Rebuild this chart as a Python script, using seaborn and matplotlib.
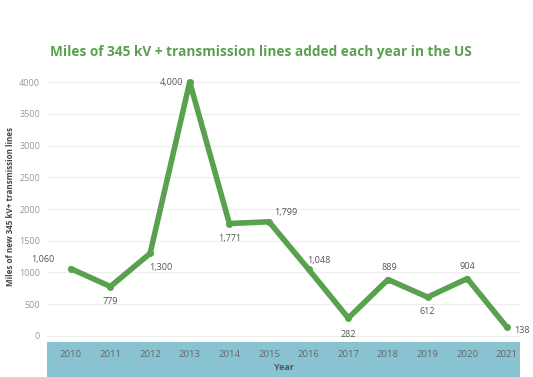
import numpy as np
import pandas as pd
import seaborn as sns
from matplotlib import pyplot as plt
from matplotlib.patches import Rectangle

years = ['2010', '2011', '2012', '2013', '2014', '2015', '2016', '2017', '2018', '2019', '2020', '2021']
miles = [1060, 779, 1300, 4000, 1771, 1799, 1048, 282, 889, 612, 904, 138]
labels = ['1,060', '779', '1,300', '4,000', '1,771', '1,799', '1,048', '282', '889', '612', '904', '138']
# label offsets in pixels (dx, dy, ha)
offsets = [(-28, 9, 'center'), (0, -15, 'center'), (11, -14, 'center'), (-7, 0, 'right'),
           (0, -15, 'center'), (17, 9, 'center'), (10, 9, 'center'), (0, -16, 'center'),
           (1, 12, 'center'), (0, -14, 'center'), (0, 12, 'center'), (7, -3, 'left')]

df = pd.DataFrame({'Year': years, 'Miles': miles})
df['pos'] = np.arange(len(df))

sns.set_style('white')
plt.rcParams['font.family'] = ['Open Sans', 'DejaVu Sans']

green = '#59a14f'
band = '#89c2d1'

fig = plt.figure(figsize=(5.33, 3.77), dpi=100)
ax = fig.add_axes([47/533, 35/377, 473/533, 272/377])

# blue x-axis band under the plot
ax.add_patch(Rectangle((0, -35/272), 1, 35/272, transform=ax.transAxes,
                       facecolor=band, edgecolor='none', clip_on=False, zorder=0.5))

sns.lineplot(data=df, x='pos', y='Miles', ax=ax, color=green, linewidth=4,
             marker='o', markersize=5, markeredgewidth=0)

for i, (lab, (dx, dy, ha)) in enumerate(zip(labels, offsets)):
    ax.annotate(lab, (i, miles[i]), xytext=(dx, dy), textcoords='offset pixels',
                ha=ha, va='center', fontsize=6.5, color='#555555')

ax.set_xlim(-0.6, 11.33)
ax.set_ylim(-95, 4190)
ax.set_yticks(range(0, 4001, 500))
ax.set_yticklabels([str(v) for v in range(0, 4001, 500)], fontsize=6.5, color='#999999')
ax.tick_params(axis='y', length=0, pad=5)
ax.grid(axis='y', color='#eeeeee', linewidth=0.8)
ax.set_axisbelow(True)
for s in ax.spines.values():
    s.set_visible(False)

ax.set_xticks(df['pos'])
ax.set_xticklabels(years, fontsize=6.8, color='#666666')
ax.tick_params(axis='x', length=2, color='#777777', pad=4, direction='out')
ax.set_xlabel('Year', fontsize=6.5, fontweight='bold', color='#555555', labelpad=3)
ax.set_ylabel('Miles of new 345 kV+ transmission lines', fontsize=5.8, fontweight='bold',
              color='#444444', labelpad=3)

fig.text(261/533, 1 - 52/377, 'Miles of 345 kV + transmission lines added each year in the US',
         ha='center', va='center', fontsize=9.8, fontweight='bold', color=green)

fig.savefig('out.png', dpi=100)
